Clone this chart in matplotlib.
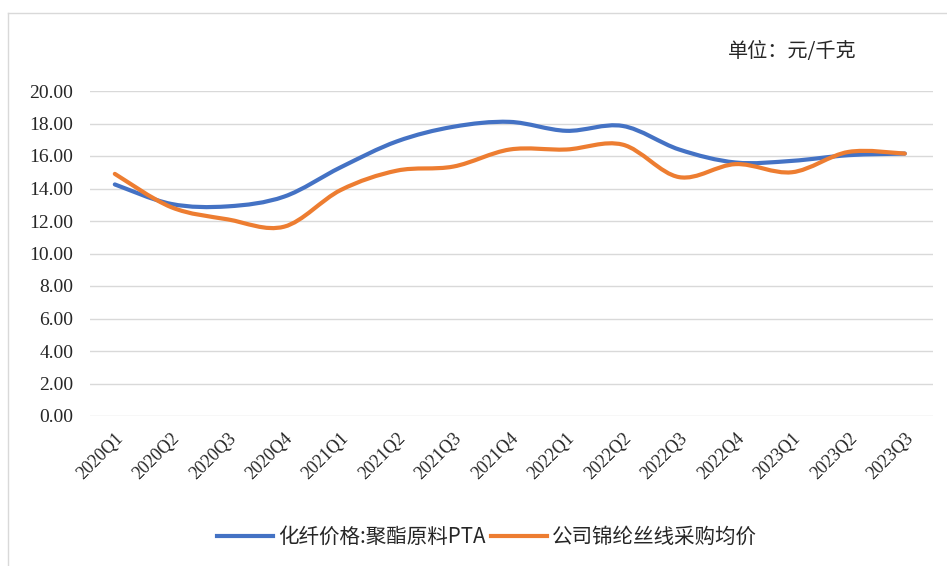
import numpy as np
import matplotlib.pyplot as plt
from matplotlib.path import Path
from matplotlib.patches import PathPatch
from matplotlib.lines import Line2D

plt.rcParams['font.family'] = ['Noto Sans CJK SC', 'DejaVu Sans']

quarters = ['2020Q1', '2020Q2', '2020Q3', '2020Q4', '2021Q1', '2021Q2', '2021Q3', '2021Q4',
            '2022Q1', '2022Q2', '2022Q3', '2022Q4', '2023Q1', '2023Q2', '2023Q3']
pta = [14.25, 13.05, 12.9, 13.5, 15.3, 16.9, 17.8, 18.1, 17.55, 17.85, 16.4, 15.6, 15.7, 16.05, 16.15]
nylon = [14.9, 12.85, 12.1, 11.65, 13.9, 15.1, 15.35, 16.4, 16.4, 16.7, 14.7, 15.5, 15.0, 16.25, 16.15]
labels = ['化纤价格:聚酯原料PTA', '公司锦纶丝线采购均价']
colors = ['#4472C4', '#ED7D31']


def smooth_path(x, y):
    # Excel-style smoothed line: Catmull-Rom segments as cubic Beziers
    p = np.column_stack([x, y]).astype(float)
    n = len(p)
    verts = [p[0]]
    codes = [Path.MOVETO]
    for i in range(n - 1):
        p0 = p[i - 1] if i > 0 else p[i]
        p3 = p[i + 2] if i + 2 < n else p[i + 1]
        c1 = p[i] + (p[i + 1] - p0) / 6
        c2 = p[i + 1] - (p3 - p[i]) / 6
        verts += [c1, c2, p[i + 1]]
        codes += [Path.CURVE4] * 3
    return Path(verts, codes)


fig = plt.figure(figsize=(9.47, 5.66), dpi=100)
ax = fig.add_axes([90 / 947, 1 - 416 / 566, 843 / 947, 325 / 566])

x = np.arange(len(quarters))
for series, c in zip([pta, nylon], colors):
    ax.add_patch(PathPatch(smooth_path(x, series), facecolor='none', edgecolor=c,
                           lw=3, capstyle='round', joinstyle='round', zorder=3))

ax.set_xlim(-0.44, 14.5)
ax.set_ylim(0, 20)
ax.set_yticks(np.arange(0, 21, 2))
ax.set_yticklabels([f'{v:.2f}' for v in np.arange(0, 21, 2)],
                   family='Liberation Serif', fontsize=14, color='#262626')
ax.set_xticks(x)
ax.set_xticklabels(quarters, family='Liberation Serif', fontsize=13, color='#262626',
                   rotation=45, ha='right', va='top', rotation_mode='anchor')
ax.tick_params(axis='both', length=0)
ax.tick_params(axis='y', pad=12)
ax.tick_params(axis='x', pad=10)
ax.grid(axis='y', color='#d9d9d9', lw=1)
ax.set_axisbelow(True)
for s in ax.spines.values():
    s.set_visible(False)

fig.text(728 / 947, 1 - 52 / 566, '单位：元/千克', fontsize=14.5, color='#262626', va='center')

handles = [Line2D([], [], color=c, lw=3) for c in colors]
fig.legend(handles, labels, loc='center', bbox_to_anchor=(487 / 947, 1 - 537 / 566),
           ncol=2, frameon=False, fontsize=14.8, handlelength=2.7, columnspacing=0.3,
           handletextpad=0.25, labelcolor='#262626')

# outer chart frame (top and left edges visible)
fig.add_artist(Line2D([8 / 947, 1], [1 - 13 / 566, 1 - 13 / 566], color='#d9d9d9', lw=1))
fig.add_artist(Line2D([8 / 947, 8 / 947], [0, 1 - 13 / 566], color='#d9d9d9', lw=1))

fig.savefig('out.png', dpi=100, facecolor='white')
